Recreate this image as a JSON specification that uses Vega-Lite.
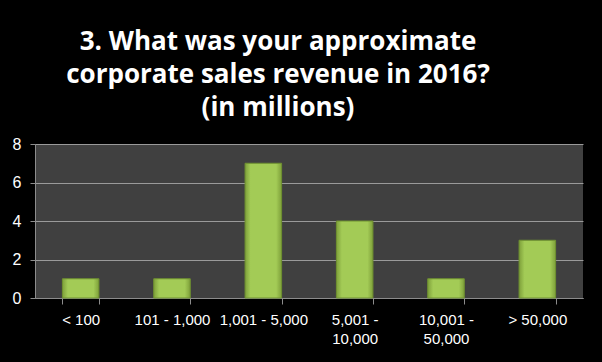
{
  "$schema": "https://vega.github.io/schema/vega-lite/v6.json",
  "autosize": "none",
  "width": 548,
  "height": 154,
  "padding": {"left": 35, "top": 144, "right": 19, "bottom": 64},
  "background": "#000000",
  "title": {
    "text": ["3. What was your approximate", "corporate sales revenue in 2016?", "(in millions)"],
    "color": "#ffffff",
    "font": "Open Sans",
    "fontWeight": "bold",
    "fontSize": 26,
    "lineHeight": 33,
    "anchor": "middle",
    "frame": "group",
    "dx": -31,
    "offset": 15
  },
  "data": {
    "values": [
      {"range": "< 100", "count": 1},
      {"range": "101 - 1,000", "count": 1},
      {"range": "1,001 - 5,000", "count": 7},
      {"range": "5,001 - 10,000", "count": 4},
      {"range": "10,001 - 50,000", "count": 1},
      {"range": "> 50,000", "count": 3}
    ]
  },
  "mark": {
    "type": "bar",
    "stroke": "#6f9130",
    "strokeWidth": 1,
    "color": {
      "gradient": "linear",
      "x1": 0, "y1": 0, "x2": 1, "y2": 0,
      "stops": [
        {"offset": 0, "color": "#7ea03a"},
        {"offset": 0.15, "color": "#a3cb56"},
        {"offset": 0.85, "color": "#a3cb56"},
        {"offset": 1, "color": "#7ea03a"}
      ]
    }
  },
  "encoding": {
    "x": {
      "field": "range",
      "type": "nominal",
      "sort": null,
      "scale": {"paddingInner": 0.6, "paddingOuter": 0.3},
      "axis": {
        "title": null,
        "labelAngle": 0,
        "labelColor": "#ffffff",
        "labelFont": "Liberation Sans",
        "labelFontSize": 15,
        "labelLineHeight": 19,
        "labelPadding": 8,
        "labelOverlap": false,
        "labelExpr": "length(datum.label) > 13 ? split(replace(datum.label, '- ', '-|'), '|') : datum.label",
        "tickBand": "extent",
        "tickSize": 6,
        "tickColor": "#8c8c8c",
        "domainColor": "#8c8c8c",
        "grid": false
      }
    },
    "y": {
      "field": "count",
      "type": "quantitative",
      "scale": {"domain": [0, 8]},
      "axis": {
        "title": null,
        "values": [0, 2, 4, 6, 8],
        "labelColor": "#ffffff",
        "labelFont": "Liberation Sans",
        "labelFontSize": 16,
        "labelPadding": 9,
        "tickSize": 5,
        "tickColor": "#8c8c8c",
        "domainColor": "#8c8c8c",
        "gridColor": "#9a9a9a",
        "gridWidth": 1
      }
    }
  },
  "config": {
    "view": {"fill": "#404040", "stroke": null}
  }
}
